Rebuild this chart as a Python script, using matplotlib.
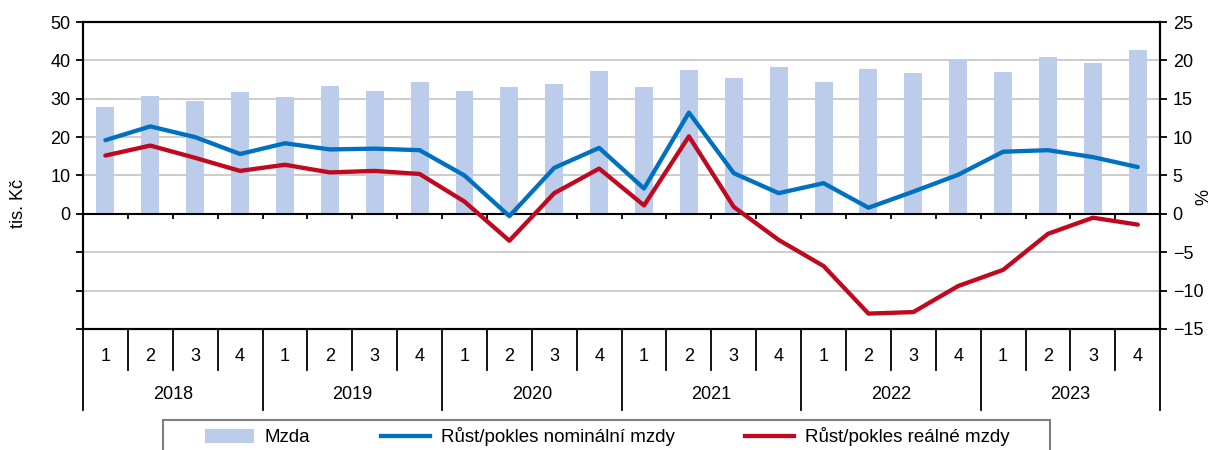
import matplotlib
matplotlib.use("Agg")
import matplotlib.pyplot as plt
from matplotlib.patches import Patch, Rectangle
from matplotlib.lines import Line2D
import numpy as np

plt.rcParams['font.family'] = ['Liberation Sans', 'DejaVu Sans']

# data
years = ["2018", "2019", "2020", "2021", "2022", "2023"]
quarters = ["1", "2", "3", "4"]
mzda = [27.9, 30.6, 29.3, 31.7,
        30.5, 33.2, 31.9, 34.4,
        32.0, 33.1, 33.9, 37.3,
        33.1, 37.5, 35.5, 38.3,
        34.3, 37.8, 36.6, 40.1,
        37.0, 40.8, 39.2, 42.6]
nominal = [9.6, 11.4, 10.0, 7.8,
           9.2, 8.4, 8.5, 8.3,
           5.0, -0.3, 6.0, 8.6,
           3.3, 13.2, 5.3, 2.7,
           4.0, 0.8, 2.9, 5.1,
           8.1, 8.3, 7.4, 6.1]
real = [7.6, 8.9, 7.3, 5.6,
        6.4, 5.4, 5.6, 5.2,
        1.6, -3.5, 2.7, 5.9,
        1.1, 10.1, 0.9, -3.4,
        -6.8, -13.0, -12.8, -9.4,
        -7.3, -2.6, -0.5, -1.4]

BAR = '#BBCDEB'
BLUE = '#0070C0'
RED = '#C0081F'
GRID = '#C4C4C4'
FS = 13

x = np.arange(len(mzda))

fig = plt.figure(figsize=(12.2, 4.5), dpi=100)
ax = fig.add_axes([0.068, 0.269, 0.883, 0.682])
ax2 = ax.twinx()

ax.set_xlim(-0.5, len(mzda) - 0.5)
ax.set_ylim(-30, 50)
ax2.set_ylim(-15, 25)

# grid
for g in [-20, -10, 10, 20, 30, 40]:
    ax.axhline(g, color=GRID, lw=1.2, zorder=0)

ax.bar(x, mzda, width=0.4, color=BAR, zorder=1)

ax2.plot(x, nominal, color=BLUE, lw=3.1, solid_capstyle='round', zorder=3)
ax2.plot(x, real, color=RED, lw=3.1, solid_capstyle='round', zorder=3)

# zero line with small ticks between categories
ax.axhline(0, color='black', lw=1.5, zorder=2)
bounds = np.arange(len(mzda) - 1) + 0.5
ax.vlines(bounds, -1.4, 0, color='black', lw=1.3, zorder=2)

# y axes
ax.set_yticks([-30, -20, -10, 0, 10, 20, 30, 40, 50])
ax.set_yticklabels(['', '', '', '0', '10', '20', '30', '40', '50'])
ax2.set_yticks(np.arange(-15, 26, 5))
for a in (ax, ax2):
    a.tick_params(axis='y', labelsize=FS, length=5, width=1.3, direction='out', pad=4)
    for s in a.spines.values():
        s.set_linewidth(1.5)
        s.set_color('black')
ax.set_xticks([])
ax2.set_xticks([])

ax.set_ylabel('tis. Kč', fontsize=FS)
ax.yaxis.set_label_coords(-0.052, 0.41)
ax2.set_ylabel('%', fontsize=FS, rotation=90)
ax2.yaxis.set_label_coords(1.033, 0.43)

# category table below the plot
tr = ax.get_xaxis_transform()
for i, b in enumerate(np.arange(len(mzda) + 1) - 0.5):
    y_end = -0.264 if i % 4 == 0 else -0.134
    ax.add_line(Line2D([b, b], [0, y_end], transform=tr, color='black',
                       lw=1.3, clip_on=False))
for i in x:
    ax.text(i, -0.091, quarters[i % 4], transform=tr, ha='center', va='center',
            fontsize=FS)
for k, yr in enumerate(years):
    ax.text(4 * k + 1.5, -0.215, yr, transform=tr, ha='center', va='center',
            fontsize=FS)

# legend box (extends past the bottom edge like the original)
fig.patches.append(Rectangle((163 / 1220, -0.06), 887 / 1220, 0.06 + 1 - 420 / 450,
                             transform=fig.transFigure, facecolor='none',
                             edgecolor='#7F7F7F', lw=1.5))
handles = [Patch(facecolor=BAR, edgecolor='none'),
           Line2D([], [], color=BLUE, lw=3.1),
           Line2D([], [], color=RED, lw=3.1)]
labels = ['Mzda', 'Růst/pokles nominální mzdy', 'Růst/pokles reálné mzdy']
fig.legend(handles, labels, loc='center left',
           bbox_to_anchor=(205 / 1220, 1 - 437 / 450, (1010 - 205) / 1220, 0),
           mode='expand', ncol=3, fontsize=13.5, frameon=False,
           handlelength=2.6, handletextpad=0.6, borderpad=0, borderaxespad=0)

fig.savefig('out.png', dpi=100)
